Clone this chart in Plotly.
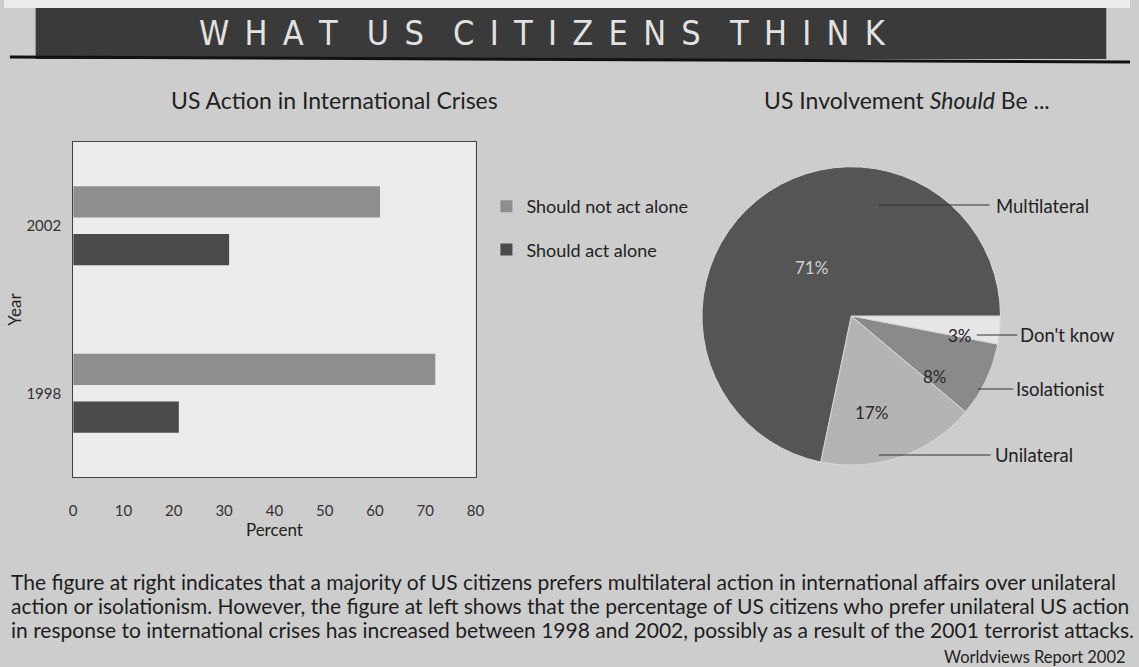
import plotly.graph_objects as go

W, H = 1139, 667

# ---- data ----
years = ["1998", "2002"]
should_not_act_alone = [72, 61]
should_act_alone = [21, 31]
x_ticks = [0, 10, 20, 30, 40, 50, 60, 70, 80]

pie_labels = ["Don't know", "Isolationist", "Unilateral", "Multilateral"]
pie_values = [3, 8, 17, 71]


def px(x):
    return x / W


def py(y):
    return 1 - y / H


FONT = "Lato, 'Open Sans', sans-serif"
BG = "#cdcdcd"

fig = go.Figure()

fig.add_trace(go.Bar(
    name="Should act alone", y=years, x=should_act_alone, orientation="h",
    marker=dict(color="#4b4b4b", line=dict(width=0)), legendrank=2, legendgroup="g2",
    xaxis="x", yaxis="y",
))
fig.add_trace(go.Bar(
    name="Should not act alone", y=years, x=should_not_act_alone, orientation="h",
    marker=dict(color="#8e8e8e", line=dict(width=0)), legendrank=1, legendgroup="g1",
    xaxis="x", yaxis="y",
))

cx, cy, r = 857, 316, 151
fig.add_trace(go.Pie(
    labels=pie_labels, values=pie_values, sort=False, direction="clockwise",
    rotation=90, textinfo="none", showlegend=False, hoverinfo="label+value",
    marker=dict(colors=["#e6e6e6", "#8a8a8a", "#b4b4b4", "#555555"],
                line=dict(color="#d8d8d8", width=1)),
    domain=dict(x=[px(cx - r), px(cx + r)], y=[py(cy + r), py(cy - r)]),
))

fig.update_layout(
    width=W, height=H,
    margin=dict(l=0, r=0, t=0, b=0),
    paper_bgcolor=BG, plot_bgcolor="#ececec",
    font=dict(family=FONT, color="#222222"),
    barmode="group", bargap=0.43, bargroupgap=0.35,
    xaxis=dict(domain=[px(70), px(477)], range=[0, 80], tickvals=x_ticks,
               showgrid=False, zeroline=False, showline=True, mirror=True,
               linecolor="#444444", linewidth=1, ticks="", ticklabelstandoff=20,
               tickfont=dict(size=15, color="#333333"),
               title=dict(text="Percent", font=dict(size=17, color="#222222"), standoff=0)),
    yaxis=dict(domain=[py(477), py(142)], type="category",
               categoryorder="array", categoryarray=years,
               showgrid=False, zeroline=False, showline=True, mirror=True,
               linecolor="#444444", linewidth=1, ticks="", ticklabelstandoff=8,
               tickfont=dict(size=15, color="#333333"),
               title=dict(text="Year", font=dict(size=17, color="#222222"), standoff=0)),
    legend=dict(x=px(488), y=py(188), xanchor="left", yanchor="top",
                bgcolor="rgba(0,0,0,0)", traceorder="grouped", tracegroupgap=17,
                font=dict(size=18, color="#222222"), itemwidth=30),
)

shapes = [
    dict(type="rect", xref="paper", yref="paper", x0=0, x1=1,
         y0=py(8), y1=1, fillcolor="#ececec", line=dict(width=0), layer="below"),
    dict(type="rect", xref="paper", yref="paper", x0=px(32), x1=px(1115),
         y0=py(59), y1=py(8), fillcolor="#3a3a3a", line=dict(width=0), layer="below"),
    dict(type="line", xref="paper", yref="paper", x0=px(6), x1=px(1139),
         y0=py(57), y1=py(62), line=dict(color="#111111", width=3)),
    # pie leader lines
    dict(type="line", xref="paper", yref="paper", x0=px(885), x1=px(997),
         y0=py(205), y1=py(205), line=dict(color="#333333", width=1)),
    dict(type="line", xref="paper", yref="paper", x0=px(984), x1=px(1025),
         y0=py(335), y1=py(335), line=dict(color="#333333", width=1)),
    dict(type="line", xref="paper", yref="paper", x0=px(985), x1=px(1021),
         y0=py(389), y1=py(389), line=dict(color="#333333", width=1)),
    dict(type="line", xref="paper", yref="paper", x0=px(885), x1=px(998),
         y0=py(455), y1=py(455), line=dict(color="#333333", width=1)),
]
fig.update_layout(shapes=shapes)

ann = []


def note(x, y, text, size, color="#222222", xanchor="left", family=None):
    f = dict(size=size, color=color)
    if family:
        f["family"] = family
    ann.append(dict(x=px(x), y=py(y), xref="paper", yref="paper", text=text,
                    showarrow=False, xanchor=xanchor, yanchor="middle", font=f))


nb = "\u00a0"
gap = "\u2002"
banner = (nb * 3).join(gap.join(list(w)) for w in ["WHAT", "US", "CITIZENS", "THINK"])
note(545, 33, banner, 34, "#e2e2e2", "center",
     "'DejaVu Sans Condensed', 'Liberation Sans Narrow', 'Roboto', sans-serif")
note(167, 100, "US Action in International Crises", 23)
note(767, 100, "US Involvement <i>Should</i> Be ...", 23)

# pie labels
label_pos = {"Multilateral": (1001, 206), "Don't know": (1026, 335),
             "Isolationist": (1022, 389), "Unilateral": (1000, 455)}
pct_pos = {"Multilateral": (817, 267), "Don't know": (967, 335),
           "Isolationist": (942, 376), "Unilateral": (878, 412)}
pct_col = {"Multilateral": "#d0d0d0", "Don't know": "#222222",
           "Isolationist": "#2a2a2a", "Unilateral": "#2a2a2a"}
for lab, v in zip(pie_labels, pie_values):
    lx, ly = label_pos[lab]
    note(lx, ly, lab, 18.5)
    qx, qy = pct_pos[lab]
    note(qx, qy, f"{v}%", 17, pct_col[lab], "center")

body = [
    "The figure at right indicates that a majority of US citizens prefers multilateral action in international affairs over unilateral",
    "action or isolationism. However, the figure at left shows that the percentage of US citizens who prefer unilateral US action",
    "in response to international crises has increased between 1998 and 2002, possibly as a result of the 2001 terrorist attacks.",
]
for i, line in enumerate(body):
    note(5, 581 + 24 * i, line, 21, "#1e1e1e")
note(1137, 657, "Worldviews Report 2002", 16.5, "#222222", "right")

fig.update_layout(annotations=ann)

fig.write_html("out.html", post_script="document.body.style.margin='0';",
               config={"displayModeBar": False})
